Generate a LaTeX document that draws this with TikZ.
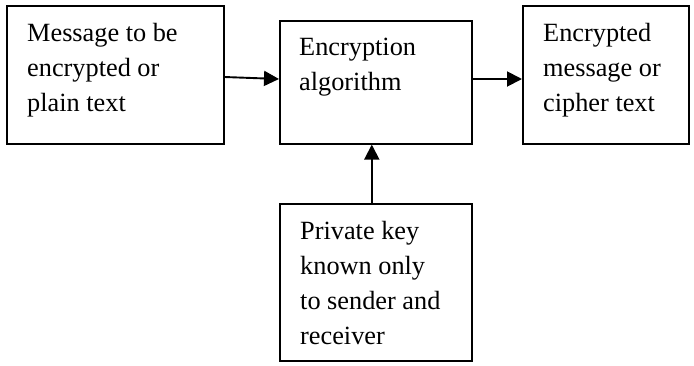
\documentclass[tikz,border=0pt]{standalone}
\usepackage{fontspec}
\setmainfont{Liberation Serif}
\usetikzlibrary{arrows.meta,calc}
\begin{document}
\begin{tikzpicture}[x=1pt,y=-1pt,
  boxnode/.style={draw=black,line width=1.6pt,rectangle,inner sep=0pt,anchor=north west},
  txt/.style={anchor=base west,inner sep=0pt,font=\fontsize{26.3}{35}\selectfont},
  conn/.style={line width=1.9pt,-{Triangle[length=15pt,width=15pt]}}]
\useasboundingbox (0,0) rectangle (694,365);
\node[boxnode,minimum width=217pt,minimum height=138pt] (b1) at (6,5) {};
\node[boxnode,minimum width=192pt,minimum height=123pt] (b2) at (279,20) {};
\node[boxnode,minimum width=166pt,minimum height=138pt] (b3) at (522,5) {};
\node[boxnode,minimum width=192pt,minimum height=157pt] (b4) at (279,203) {};
% texts
\node[txt] (t1a) at (27,41) {Message to be};
\node[txt] (t1b) at (27,76) {encrypted or};
\node[txt] (t1c) at (27,111) {plain text};
\node[txt] (t2a) at (299,55) {Encryption};
\node[txt] (t2b) at (299,90) {algorithm};
\node[txt] (t3a) at (543,41) {Encrypted};
\node[txt] (t3b) at (543,76) {message or};
\node[txt] (t3c) at (543,111) {cipher text};
\node[txt] (t4a) at (300,239) {Private key};
\node[txt] (t4b) at (300,274) {known only};
\node[txt] (t4c) at (300,309) {to sender and};
\node[txt] (t4d) at (300,344) {receiver};
% connectors
\draw[conn] ($(b1.north east)+(0,72)$) -- ($(b2.north west)+(0,59)$);
\draw[conn] ($(b2.north east)+(0,59)$) -- ($(b3.north west)+(0,74)$);
\draw[conn] ($(b4.north)+(-4,0)$) -- ($(b2.south)+(-4,0)$);
\end{tikzpicture}
\end{document}
